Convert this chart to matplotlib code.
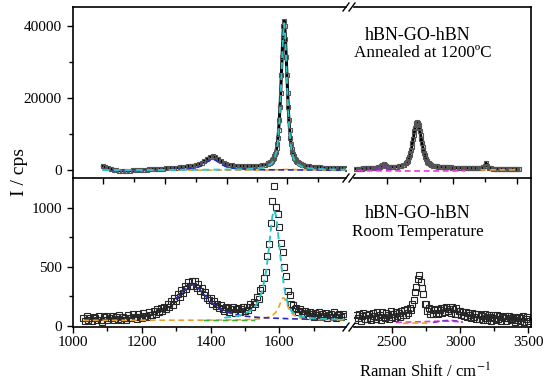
import numpy as np
import matplotlib
matplotlib.use("Agg")
import matplotlib.pyplot as plt
from matplotlib.lines import Line2D

plt.rcParams["font.family"] = "serif"
plt.rcParams["font.serif"] = ["Liberation Serif", "DejaVu Serif"]
plt.rcParams["mathtext.fontset"] = "stix"

# ---- Annealed at 1200 C (top) : measured points (x, I) ----
top_left_xy = np.array([
    [1086, 1140], [1094, 860], [1102, 560], [1110, 295], [1118, 105], [1126, -30], [1134, -130], [1142, -180],
    [1150, -185], [1158, -165], [1166, -130], [1174, -85], [1182, -45], [1190, 0], [1198, 55], [1206, 110],
    [1214, 155], [1222, 200], [1230, 250], [1238, 290], [1246, 335], [1254, 380], [1262, 425], [1270, 475],
    [1278, 525], [1286, 580], [1294, 640], [1302, 700], [1310, 770], [1318, 845], [1326, 930], [1334, 1020],
    [1342, 1130], [1350, 1265], [1358, 1440], [1366, 1675], [1374, 2000], [1382, 2460], [1390, 3040], [1398, 3630],
    [1406, 3900], [1414, 3630], [1422, 3050], [1430, 2475], [1438, 2030], [1446, 1720], [1454, 1500], [1462, 1350],
    [1470, 1240], [1478, 1165], [1486, 1110], [1494, 1075], [1502, 1060], [1510, 1065], [1518, 1090], [1526, 1130],
    [1534, 1185], [1542, 1260], [1550, 1360], [1558, 1505],
    [1566, 1770], [1568, 1860], [1570, 1955], [1572, 2075], [1574, 2205], [1576, 2350], [1578, 2550], [1580, 2800],
    [1582, 3100], [1584, 3445], [1586, 3895], [1588, 4440], [1590, 5140], [1592, 6040], [1594, 7240], [1596, 8935],
    [1598, 11130], [1600, 13930], [1602, 17430], [1604, 21530], [1606, 26430], [1608, 31425], [1610, 36320],
    [1612, 39920], [1614, 41520], [1616, 39915], [1618, 36315], [1620, 31410], [1622, 26410], [1624, 21505],
    [1626, 17405], [1628, 13900], [1630, 11095], [1632, 8895], [1634, 7190], [1636, 5990], [1638, 5085],
    [1640, 4385], [1642, 3830], [1644, 3375], [1646, 3025], [1648, 2720], [1650, 2470], [1652, 2265],
    [1654, 2115], [1656, 1980], [1658, 1855], [1660, 1755], [1662, 1660], [1664, 1580], [1666, 1505],
    [1668, 1445], [1670, 1385],
    [1678, 1165], [1686, 1045], [1694, 940], [1702, 860], [1710, 790], [1718, 725], [1726, 680], [1734, 640],
    [1742, 600], [1750, 565], [1758, 535], [1766, 510], [1774, 490], [1782, 470], [1790, 450], [1798, 430],
])

top_right_xy = np.array([
    [2240, 355], [2250, 370], [2260, 390], [2270, 410], [2280, 430], [2290, 445], [2300, 465], [2310, 485],
    [2320, 500], [2330, 520], [2340, 535], [2350, 560], [2360, 585], [2370, 615], [2380, 650], [2390, 700],
    [2400, 770], [2410, 880], [2420, 1075], [2430, 1405], [2440, 1660], [2450, 1440], [2460, 1145], [2470, 980],
    [2480, 910], [2490, 880], [2500, 880], [2510, 890], [2520, 910], [2530, 945], [2540, 985], [2550, 1040],
    [2560, 1110], [2570, 1210], [2580, 1340], [2590, 1530],
    [2600, 1830], [2605, 2035], [2610, 2300], [2615, 2630], [2620, 3040], [2625, 3520], [2630, 4120], [2635, 4820],
    [2640, 5620], [2645, 6530], [2650, 7540], [2655, 8620], [2660, 9710], [2665, 10790], [2670, 11770],
    [2675, 12570], [2680, 13100], [2685, 13280], [2690, 13100], [2695, 12570], [2700, 11770], [2705, 10790],
    [2710, 9715], [2715, 8625], [2720, 7545], [2725, 6540], [2730, 5630], [2735, 4830], [2740, 4130],
    [2745, 3535], [2750, 3055], [2755, 2650], [2760, 2320], [2765, 2055], [2770, 1850],
    [2780, 1555], [2790, 1365], [2800, 1235], [2810, 1135], [2820, 1065], [2830, 1005], [2840, 955], [2850, 915],
    [2860, 880], [2870, 850], [2880, 825], [2890, 800], [2900, 780], [2910, 760], [2920, 740], [2930, 725],
    [2940, 710], [2950, 695], [2960, 680], [2970, 665], [2980, 655], [2990, 640], [3000, 630], [3010, 620],
    [3020, 605], [3030, 590], [3040, 580], [3050, 570], [3060, 555], [3070, 545], [3080, 535], [3090, 540],
    [3100, 530], [3110, 525], [3120, 520], [3130, 520], [3140, 525], [3150, 545], [3160, 595], [3170, 735],
    [3180, 1175], [3190, 1915], [3200, 1155], [3210, 695], [3220, 535], [3230, 465], [3240, 425], [3250, 395],
    [3260, 375], [3270, 360], [3280, 345], [3290, 335], [3300, 320], [3310, 310], [3320, 300], [3330, 290],
    [3340, 275], [3350, 265], [3360, 255], [3370, 245], [3380, 235], [3390, 225], [3400, 215], [3410, 205],
    [3420, 195], [3430, 185],
])

# fitted components (top)
top_g_fit = np.array([[1086, 20], [1200, 28], [1300, 50], [1400, 95], [1500, 225], [1540, 460], [1560, 800],
                      [1578, 1800], [1586, 3150], [1592, 5300], [1596, 8200], [1600, 13200], [1604, 20800],
                      [1608, 30700], [1611, 37500], [1614, 40800], [1617, 37500], [1620, 30700], [1624, 20800],
                      [1628, 13200], [1632, 8200], [1636, 5300], [1642, 3150], [1650, 1800], [1668, 800],
                      [1690, 460], [1730, 225], [1794, 100]])
top_d_fit = np.array([[1086, 20], [1150, 30], [1200, 50], [1250, 95], [1300, 190], [1334, 360], [1350, 550],
                      [1366, 920], [1382, 1675], [1394, 2550], [1406, 3100], [1418, 2550], [1430, 1675],
                      [1446, 920], [1462, 550], [1478, 360], [1510, 180], [1560, 80], [1650, 32], [1794, 18]])
top_dp_fit = np.array([[1140, -60], [1300, -40], [1450, -20], [1560, 0], [1600, 120], [1625, 200],
                       [1650, 120], [1700, 40], [1794, 20]])
top_base_fit = np.array([[2246, -150], [2400, -200], [2600, -250], [2800, -250], [2900, -230],
                         [3000, -200], [3040, -180]])
top_bump_fit = np.array([[2380, 480], [2400, 570], [2420, 850], [2440, 1400], [2460, 850],
                         [2480, 570], [2500, 480]])
top_tail_fit = np.array([[3150, 50], [3250, 70], [3350, 80], [3420, 80]])

# ---- Room temperature (bottom) : measured points on a regular grid ----
bot_left_x = (1030, 1790)
bot_left_y = [
    72, 42, 85, 55, 68, 39, 77, 65, 51, 83,
    55, 38, 75, 83, 51, 71, 64, 89, 48, 76,
    58, 95, 47, 80, 66, 52, 90, 71, 64, 98,
    74, 61, 103, 80, 72, 110, 88, 79, 118, 96,
    91, 130, 104, 140, 115, 150, 125, 162, 140, 188,
    160, 210, 182, 235, 212, 270, 248, 302, 282, 340,
    312, 372, 335, 385, 340, 378, 325, 355, 298, 320,
    262, 290, 240, 218, 235, 188, 210, 170, 190, 150,
    175, 140, 128, 165, 150, 118, 145, 160, 112, 140,
    150, 118, 142, 165, 125, 160, 138, 185, 165, 200,
    188, 245, 232, 305, 318, 405, 455, 590, 690, 875,
    1060, 1185, 1010, 950, 835, 700, 630, 500, 420, 300,
    262, 190, 180, 140, 155, 118, 140, 128, 105, 130,
    110, 85, 120, 98, 80, 112, 95, 118, 75, 100,
    88, 110, 72, 95, 105, 80, 115, 70, 92, 100,
    78, 105, 85,
]
bot_right_x = (2230, 3500)
bot_right_y = [
    50, 96, 68, 104, 45, 88, 110, 62, 97, 58,
    105, 70, 52, 112, 84, 60, 118, 75, 95, 55,
    120, 78, 66, 108, 92, 58, 125, 80, 104, 70,
    122, 82, 110, 75, 128, 96, 132, 90, 140, 108,
    150, 132, 190, 220, 285, 330, 395, 430, 375, 320,
    270, 190, 185, 128, 150, 105, 140, 98, 135, 112,
    145, 100, 138, 150, 108, 155, 118, 160, 125, 148,
    112, 158, 140, 105, 150, 98, 130, 125, 90, 118,
    82, 120, 75, 110, 95, 68, 112, 80, 100, 62,
    98, 60, 92, 85, 55, 105, 70, 52, 95, 78,
    45, 90, 72, 50, 95, 58, 82, 40, 75, 66,
    85, 42, 70, 88, 48, 62, 80, 38, 72, 55,
    75, 40, 68, 82, 35, 60, 78, 45,
]

# fitted components (bottom)
bot_g_fit = np.array([[1440, 70], [1480, 86], [1500, 104], [1520, 138], [1530, 168], [1540, 216], [1550, 296],
                      [1560, 435], [1565, 538], [1570, 666], [1575, 808], [1580, 930], [1585, 980], [1590, 937],
                      [1595, 827], [1600, 684], [1605, 541], [1610, 416], [1615, 316], [1620, 241], [1625, 188],
                      [1630, 152], [1635, 129], [1640, 113], [1650, 94], [1660, 84], [1680, 72], [1700, 65],
                      [1740, 58], [1790, 55]])
bot_dp_fit = np.array([[1030, 48], [1200, 49], [1400, 50], [1500, 54], [1540, 60], [1560, 67], [1580, 90],
                       [1590, 116], [1595, 139], [1600, 172], [1605, 210], [1610, 237], [1615, 234], [1620, 202],
                       [1625, 164], [1630, 134], [1635, 112], [1640, 97], [1650, 79], [1660, 69], [1680, 60],
                       [1720, 54], [1790, 52]])
bot_x_fit = np.array([[1380, 47], [1450, 47], [1530, 48]])
bot_d_fit = np.array([[1300, 223], [1320, 292], [1340, 345], [1347, 350], [1360, 334], [1380, 271], [1400, 206],
                      [1420, 159], [1440, 128], [1460, 107], [1480, 94], [1500, 84], [1520, 78], [1540, 73],
                      [1560, 70], [1580, 67], [1600, 65], [1640, 61], [1700, 57], [1760, 55]])
bot_r1_fit = np.array([[2530, 30], [2600, 33], [2700, 36], [2800, 40], [2900, 42], [2950, 40], [3000, 36]])
bot_r2_fit = np.array([[2580, 22], [2650, 25], [2700, 27], [2760, 24]])
bot_r3_fit = np.array([[2800, 30], [2880, 45], [2930, 48], [2980, 42], [3020, 32]])

# colours of the fit components
c_cyan, c_orange, c_blue = "#2cc4c4", "#f0a030", "#2a2ab8"
c_green, c_magenta, c_purple = "#3cae3c", "#e23ad6", "#8a30c8"
dash = (0, (3.5, 2.2))

W, H = 550, 384
fig = plt.figure(figsize=(5.5, 3.84), dpi=100)


def box(x0, y0, x1, y1):
    return [x0 / W, 1 - y1 / H, (x1 - x0) / W, (y1 - y0) / H]


ax_tl = fig.add_axes(box(73, 7, 346, 178))
ax_tr = fig.add_axes(box(354, 7, 531, 178))
ax_bl = fig.add_axes(box(73, 178, 346, 327))
ax_br = fig.add_axes(box(354, 178, 531, 327))

for ax in (ax_tl, ax_tr, ax_bl, ax_br):
    for s in ax.spines.values():
        s.set_linewidth(1.2)
    ax.tick_params(which="both", direction="out", width=1.0, labelsize=11, colors="black")
    ax.tick_params(which="major", length=4.5)
    ax.tick_params(which="minor", length=2.8)
    ax.patch.set_visible(False)

for ax in (ax_tl, ax_bl):
    ax.spines["right"].set_visible(False)
for ax in (ax_tr, ax_br):
    ax.spines["left"].set_visible(False)
    ax.tick_params(axis="y", which="both", left=False, labelleft=False)
for ax in (ax_bl, ax_br):
    ax.spines["top"].set_visible(False)

# ---- top panels ----
data_kw = dict(marker="s", ms=3.4, mfc="none", mec="#555555", mew=0.8)
ax_tl.plot(top_left_xy[:, 0], top_left_xy[:, 1], color="black", lw=2.2, **data_kw)
ax_tr.plot(top_right_xy[:, 0], top_right_xy[:, 1], color="black", lw=2.2, **data_kw)

ax_tl.plot(top_dp_fit[:, 0], top_dp_fit[:, 1], color=c_orange, lw=1.2, ls=dash)
ax_tl.plot(top_d_fit[:, 0], top_d_fit[:, 1], color=c_blue, lw=1.2, ls=dash)
ax_tl.plot(top_g_fit[:, 0], top_g_fit[:, 1], color=c_cyan, lw=1.4, ls=dash)
ax_tr.plot(top_base_fit[:, 0], top_base_fit[:, 1], color=c_magenta, lw=1.2, ls=dash)
ax_tr.plot(top_bump_fit[:, 0], top_bump_fit[:, 1], color=c_purple, lw=1.2, ls=dash)
ax_tr.plot(top_tail_fit[:, 0], top_tail_fit[:, 1], color=c_orange, lw=1.2, ls=dash)

ax_tl.set_xlim(1000, 1794)
ax_tr.set_xlim(2222, 3520)
ax_tl.set_ylim(-2200, 45300)
ax_tr.set_ylim(-2200, 45300)
ax_tl.set_yticks([0, 20000, 40000])
ax_tl.set_yticks([10000, 30000], minor=True)
ax_tl.set_xticks([1086, 1267, 1447, 1622])
ax_tl.set_xticks([1177, 1357, 1535, 1713], minor=True)
ax_tr.set_xticks([2466, 2949, 3417])
ax_tr.set_xticks([2707, 3183], minor=True)
for ax in (ax_tl, ax_tr):
    ax.tick_params(axis="x", which="both", labelbottom=False)

# ---- bottom panels ----
bx_l = np.linspace(bot_left_x[0], bot_left_x[1], len(bot_left_y))
bx_r = np.linspace(bot_right_x[0], bot_right_x[1], len(bot_right_y))
pts_kw = dict(ls="none", marker="s", ms=4.2, mfc="none", mec="#262626", mew=0.8)
ax_bl.plot(bx_l, bot_left_y, **pts_kw)
ax_br.plot(bx_r, bot_right_y, **pts_kw)

ax_bl.plot(bot_dp_fit[:, 0], bot_dp_fit[:, 1], color=c_orange, lw=1.2, ls=dash)
ax_bl.plot(bot_x_fit[:, 0], bot_x_fit[:, 1], color=c_green, lw=1.2, ls=dash)
ax_bl.plot(bot_d_fit[:, 0], bot_d_fit[:, 1], color=c_blue, lw=1.2, ls=dash)
ax_bl.plot(bot_g_fit[:, 0], bot_g_fit[:, 1], color=c_cyan, lw=1.4, ls=dash)
ax_br.plot(bot_r1_fit[:, 0], bot_r1_fit[:, 1], color=c_magenta, lw=1.2, ls=dash)
ax_br.plot(bot_r2_fit[:, 0], bot_r2_fit[:, 1], color=c_orange, lw=1.2, ls=dash)
ax_br.plot(bot_r3_fit[:, 0], bot_r3_fit[:, 1], color=c_purple, lw=1.2, ls=dash)

ax_bl.set_xlim(1000, 1794)
ax_br.set_xlim(2222, 3520)
ax_bl.set_ylim(-8, 1252)
ax_br.set_ylim(-8, 1252)
ax_bl.set_yticks([0, 500, 1000])
ax_bl.set_yticks([250, 750], minor=True)
ax_bl.set_xticks([1000, 1200, 1400, 1600])
ax_bl.set_xticks([1100, 1300, 1500, 1700], minor=True)
ax_br.set_xticks([2500, 3000, 3500])
ax_br.set_xticks([2750, 3250], minor=True)
for ax in (ax_bl, ax_br):
    ax.tick_params(axis="x", which="major", pad=2)

# break marks "//" on the horizontal axis lines
for py in (7, 178, 327):
    for px in (346, 352):
        fig.add_artist(Line2D([(px - 3) / W, (px + 3) / W], [1 - (py + 4) / H, 1 - (py - 4) / H],
                              color="black", lw=1.0))

# texts
fig.text(418 / W, 1 - 35 / H, "hBN-GO-hBN", ha="center", va="center", fontsize=13)
fig.text(423 / W, 1 - 53 / H, "Annealed at 1200ºC", ha="center", va="center", fontsize=12.3)
fig.text(418 / W, 1 - 214 / H, "hBN-GO-hBN", ha="center", va="center", fontsize=13)
fig.text(418 / W, 1 - 232 / H, "Room Temperature", ha="center", va="center", fontsize=12.3)
fig.text(425 / W, 1 - 372 / H, "Raman Shift / cm$^{-1}$", ha="center", va="center", fontsize=12)
fig.text(19 / W, 1 - 172 / H, "I / cps", ha="center", va="center", rotation=90, fontsize=14)

fig.savefig("out.png", dpi=100)
